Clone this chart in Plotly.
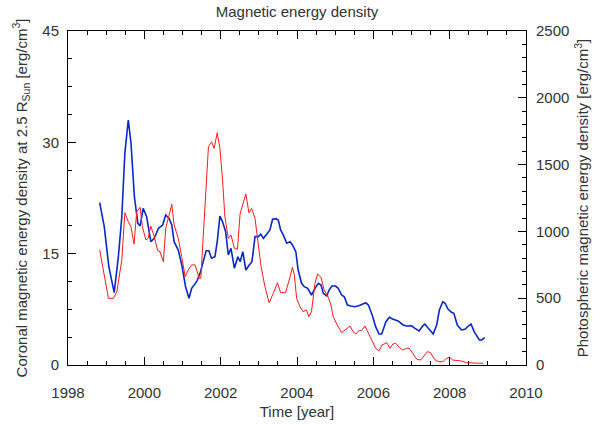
import plotly.graph_objects as go

# Coronal magnetic energy density (left axis) - blue
cor_year = [1998.83, 1998.95, 1999.07, 1999.21, 1999.32, 1999.41, 1999.49, 1999.58, 1999.65, 1999.74,
            1999.83, 1999.89, 1999.97, 2000.06, 2000.17, 2000.26, 2000.37, 2000.48, 2000.56, 2000.65,
            2000.72, 2000.78, 2000.89, 2000.99, 2001.08, 2001.17, 2001.24, 2001.37, 2001.46, 2001.54,
            2001.62, 2001.69, 2001.76, 2001.85, 2001.91, 2001.98, 2002.05, 2002.13, 2002.20, 2002.27,
            2002.36, 2002.45, 2002.51, 2002.58, 2002.66, 2002.75, 2002.82, 2002.90, 2002.99, 2003.05,
            2003.12, 2003.21, 2003.29, 2003.36, 2003.45, 2003.51, 2003.57, 2003.64, 2003.73, 2003.82,
            2003.88, 2003.97, 2004.03, 2004.12, 2004.19, 2004.28, 2004.38, 2004.47, 2004.56, 2004.63,
            2004.69, 2004.78, 2004.84, 2004.92, 2005.01, 2005.08, 2005.17, 2005.24, 2005.32, 2005.41,
            2005.52, 2005.62, 2005.71, 2005.80, 2005.87, 2005.97, 2006.06, 2006.15, 2006.22, 2006.30,
            2006.33, 2006.42, 2006.52, 2006.65, 2006.78, 2006.87, 2007.00, 2007.09, 2007.20, 2007.29,
            2007.35, 2007.44, 2007.57, 2007.66, 2007.73, 2007.82, 2007.88, 2007.96, 2008.05, 2008.11,
            2008.20, 2008.31, 2008.40, 2008.49, 2008.56, 2008.64, 2008.78, 2008.84, 2008.92]
cor_val = [21.87, 18.63, 13.24, 9.74, 14.59, 19.98, 28.56, 33.01, 29.91, 22.67,
           19.09, 18.73, 21.11, 19.98, 16.61, 17.07, 18.42, 18.86, 20.21, 19.76,
           18.86, 16.61, 15.49, 13.24, 10.55, 8.99, 10.33, 11.22, 12.35, 13.92,
           15.40, 15.40, 14.38, 14.59, 16.61, 20.07, 19.31, 17.96, 14.82, 15.72,
           13.03, 14.59, 13.92, 15.26, 12.80, 13.47, 13.92, 17.29, 17.29, 17.65,
           17.07, 17.65, 18.19, 19.63, 19.71, 19.54, 18.19, 17.52, 16.40, 16.61,
           16.17, 15.26, 12.80, 11.01, 10.55, 10.33, 9.43, 10.33, 11.01, 10.78,
           9.66, 9.30, 10.10, 10.64, 10.64, 10.33, 9.43, 9.20, 8.08, 7.95,
           7.85, 7.99, 8.22, 8.39, 8.08, 6.74, 5.16, 4.18, 4.18, 5.39,
           5.83, 6.43, 6.16, 5.93, 5.39, 5.25, 5.29, 4.94, 4.58, 5.25,
           5.52, 4.94, 4.18, 5.39, 7.41, 8.53, 8.31, 7.50, 7.10, 6.97,
           5.39, 4.72, 4.81, 5.25, 5.52, 4.49, 3.37, 3.37, 3.68]

# Photospheric magnetic energy density (right axis) - red
pho_year = [1998.83, 1998.92, 1999.06, 1999.19, 1999.28, 1999.41, 1999.49, 1999.58, 1999.65, 1999.73,
            1999.80, 1999.89, 1999.95, 2000.04, 2000.10, 2000.17, 2000.26, 2000.35, 2000.41, 2000.50,
            2000.56, 2000.65, 2000.72, 2000.78, 2000.89, 2000.98, 2001.07, 2001.15, 2001.24, 2001.33,
            2001.44, 2001.48, 2001.54, 2001.62, 2001.68, 2001.76, 2001.83, 2001.91, 2001.98, 2002.05,
            2002.11, 2002.20, 2002.27, 2002.36, 2002.44, 2002.51, 2002.59, 2002.66, 2002.74, 2002.81,
            2002.90, 2002.99, 2003.06, 2003.16, 2003.27, 2003.38, 2003.49, 2003.57, 2003.70, 2003.82,
            2003.88, 2003.93, 2003.99, 2004.08, 2004.16, 2004.25, 2004.31, 2004.38, 2004.47, 2004.54,
            2004.63, 2004.71, 2004.82, 2004.89, 2004.95, 2005.04, 2005.17, 2005.26, 2005.39, 2005.47,
            2005.54, 2005.62, 2005.69, 2005.78, 2005.87, 2005.97, 2006.06, 2006.15, 2006.23, 2006.35,
            2006.44, 2006.51, 2006.59, 2006.68, 2006.77, 2006.87, 2006.94, 2007.03, 2007.14, 2007.24,
            2007.33, 2007.42, 2007.50, 2007.60, 2007.70, 2007.82, 2007.90, 2007.99, 2008.08, 2008.18,
            2008.31, 2008.45, 2008.62, 2008.79, 2008.88]
pho_val = [861, 711, 499, 499, 549, 786, 1140, 1073, 1035, 906,
           1147, 1180, 1035, 936, 948, 1040, 960, 856, 848, 773,
           1023, 1123, 1203, 1048, 948, 811, 661, 711, 749, 749,
           649, 649, 960, 1335, 1634, 1671, 1622, 1739, 1622, 1385,
           1110, 948, 973, 873, 866, 1135, 1210, 1280, 1140, 1173,
           1098, 911, 736, 586, 466, 537, 616, 541, 541, 661,
           731, 674, 499, 436, 399, 412, 362, 399, 612, 681,
           656, 561, 507, 449, 362, 307, 242, 262, 292, 249,
           232, 257, 257, 292, 237, 174, 125, 107, 150, 167,
           125, 157, 162, 132, 112, 125, 125, 88, 43, 37,
           67, 100, 92, 43, 25, 25, 45, 58, 37, 32,
           30, 17, 13, 13, 13]

x_ticks = [1998, 2000, 2002, 2004, 2006, 2008, 2010]
y1_ticks = [0, 15, 30, 45]
y2_ticks = [0, 500, 1000, 1500, 2000, 2500]

txt = "#333333"
fnt = "Arial, Liberation Sans, sans-serif"

fig = go.Figure()
fig.add_trace(go.Scatter(x=cor_year, y=cor_val, mode="lines", yaxis="y",
                         line=dict(color="#0a28c8", width=1.6), showlegend=False))
fig.add_trace(go.Scatter(x=pho_year, y=pho_val, mode="lines", yaxis="y2",
                         line=dict(color="#ff1a1a", width=1.0), showlegend=False))

fig.update_layout(
    width=602, height=425,
    margin=dict(l=68, r=76, t=31, b=60),
    paper_bgcolor="white", plot_bgcolor="white",
    font=dict(family=fnt, size=15, color=txt),
    title=dict(text="Magnetic energy density", x=0.5, xref="paper", y=1 - 12 / 425,
               yanchor="middle", xanchor="center", font=dict(size=15, color=txt)),
    xaxis=dict(range=[1998, 2010], tickvals=x_ticks, ticks="inside", ticklen=8,
               tickcolor="black", showline=True, linecolor="black", linewidth=1,
               mirror="ticks", showgrid=False, zeroline=False, automargin=False,
               minor=dict(dtick=0.5, tick0=1998, ticks="inside", ticklen=4, tickcolor="black"),
               title=dict(text="Time [year]", standoff=6, font=dict(size=15)),
               ticklabelstandoff=14, tickfont=dict(size=15)),
    yaxis=dict(range=[0, 45], tickvals=y1_ticks, ticks="inside", ticklen=8,
               tickcolor="black", showline=True, linecolor="black", linewidth=1,
               showgrid=False, zeroline=False, automargin=False,
               minor=dict(dtick=3.75, tick0=0, ticks="inside", ticklen=4, tickcolor="black"),
               title=dict(text="Coronal magnetic energy density at 2.5 R<sub>Sun</sub> [erg/cm<sup>3</sup>]",
                          standoff=11, font=dict(size=15)),
               ticklabelstandoff=5, tickfont=dict(size=15)),
    yaxis2=dict(range=[0, 2500], tickvals=y2_ticks, ticks="inside", ticklen=8,
                tickcolor="black", showline=True, linecolor="black", linewidth=1,
                showgrid=False, zeroline=False, overlaying="y", side="right", automargin=False,
                minor=dict(dtick=100, tick0=0, ticks="inside", ticklen=4, tickcolor="black"),
                title=dict(text="Photospheric magnetic energy density [erg/cm<sup>3</sup>]",
                           standoff=9, font=dict(size=15)),
                ticklabelstandoff=6, tickfont=dict(size=15)),
)

fig.write_html("out.html")
